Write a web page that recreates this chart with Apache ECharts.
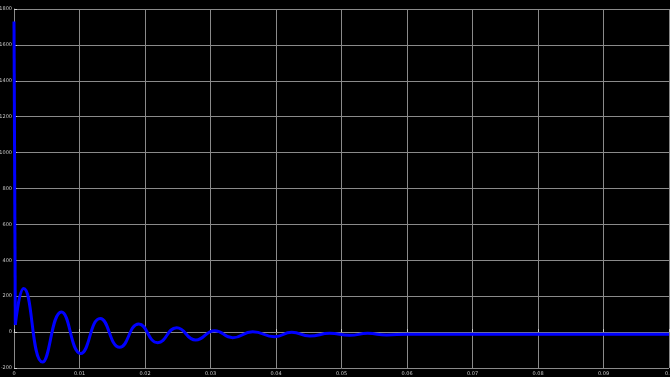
<!DOCTYPE html>
<html>
<head>
<meta charset="utf-8">
<style>
  html, body { margin: 0; padding: 0; background: #000; }
  #chart { width: 670px; height: 377px; }
</style>
<script src="https://cdn.jsdelivr.net/npm/echarts@6/dist/echarts.min.js"></script>
</head>
<body>
<div id="chart"></div>
<script>
// Step response: time (s) and measured amplitude
const timeS = [0, 0.0002, 0.00148, 0.00434, 0.00724, 0.01018, 0.01316, 0.01614, 0.01904, 0.02194,
  0.02484, 0.02774, 0.03064, 0.03339, 0.03644, 0.0398, 0.0424, 0.04515, 0.0482, 0.05126,
  0.054, 0.0569, 0.06, 0.07, 0.08, 0.09, 0.1];
const amplitude = [1730, 40, 243, -167, 112, -119, 76, -85, 45, -59,
  24, -44, 8, -31, 2, -26, -1, -22, -7, -18,
  -7, -16, -12, -12, -12, -12, -12];

const yMin = -200, yMax = 1800, yStep = 200;
const xMin = 0, xMax = 0.1, xStep = 0.01;

const pts = timeS.map((t, i) => [t, amplitude[i]]);
// the initial impulse is drawn straight, the ringing after it smoothed
const impulse = pts.slice(0, 2);
const ringing = pts.slice(1);

const gridColor = '#8a8a8a';
const labelStyle = { color: '#c8c8c8', fontSize: 5, fontFamily: 'DejaVu Sans' };
const plain = v => String(Math.round(v * 1000) / 1000);

const chart = echarts.init(document.getElementById('chart'));
chart.setOption({
  backgroundColor: '#000000',
  animation: false,
  grid: { left: 14, right: 1, top: 9, bottom: 9, containLabel: false, outerBoundsMode: 'none' },
  xAxis: {
    type: 'value', min: xMin, max: xMax, interval: xStep,
    axisLine: { show: true, lineStyle: { color: gridColor, width: 1 } },
    axisTick: { show: true, inside: true, length: 3, lineStyle: { color: '#cfcfcf' } },
    axisLabel: Object.assign({ margin: 3, showMaxLabel: true, formatter: plain }, labelStyle),
    splitLine: { show: true, lineStyle: { color: gridColor, width: 1 } }
  },
  yAxis: {
    type: 'value', min: yMin, max: yMax, interval: yStep,
    axisLine: { show: true, lineStyle: { color: gridColor, width: 1 } },
    axisTick: { show: true, inside: true, length: 3, lineStyle: { color: '#cfcfcf' } },
    axisLabel: Object.assign({ margin: 2, formatter: plain }, labelStyle),
    splitLine: { show: true, lineStyle: { color: gridColor, width: 1 } }
  },
  series: [
    {
      type: 'line', data: impulse, showSymbol: false, smooth: false,
      lineStyle: { color: '#0000ff', width: 3 }
    },
    {
      type: 'line', data: ringing, showSymbol: false, smooth: 0.5,
      lineStyle: { color: '#0000ff', width: 3 }
    }
  ]
});
</script>
</body>
</html>
